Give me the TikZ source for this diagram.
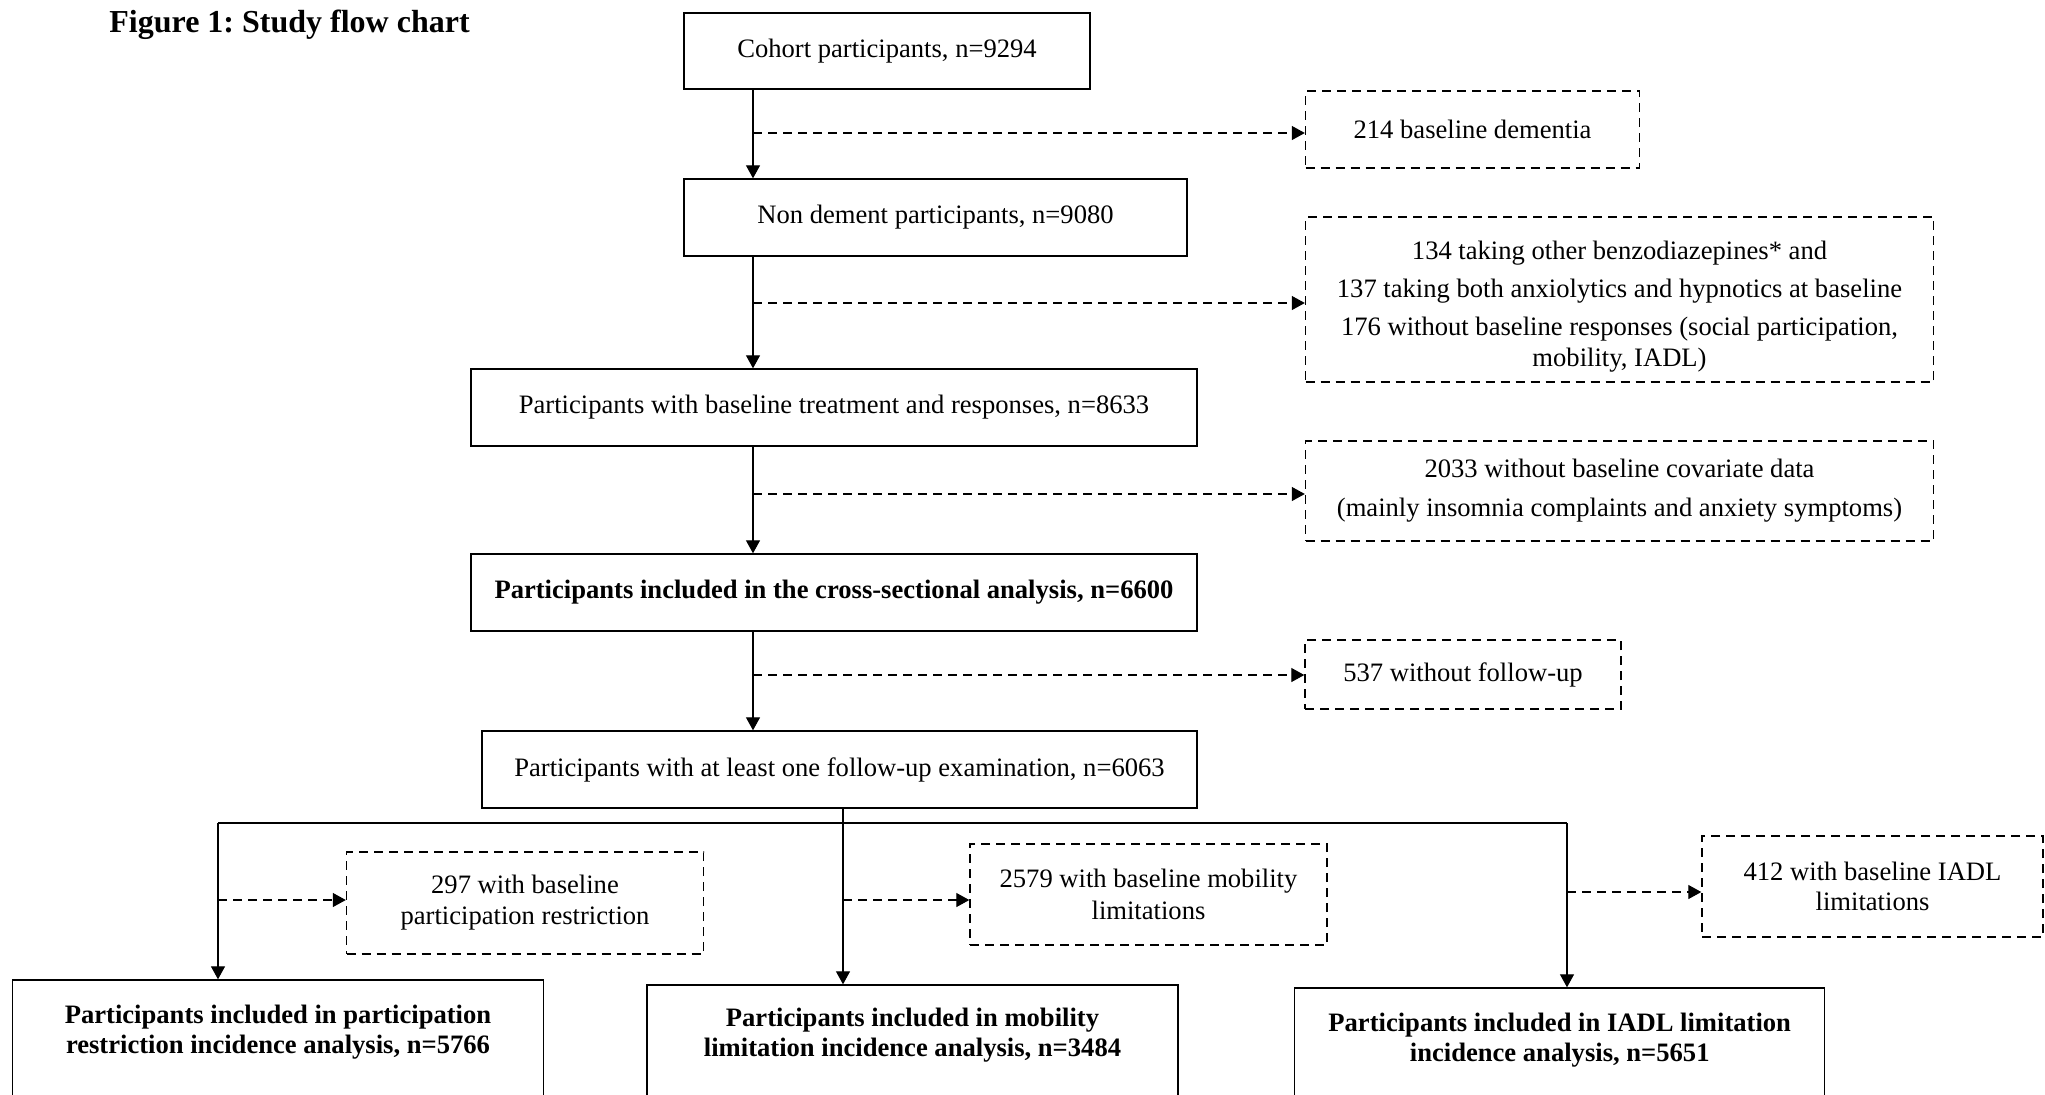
\documentclass[tikz,border=0pt]{standalone}
\usepackage{fontspec}
\setmainfont{Liberation Serif}
\usetikzlibrary{arrows.meta}
\begin{document}
\begin{tikzpicture}[x=0.5pt,y=-0.5pt,
  solidbox/.style={draw, line width=0.7pt, align=center, inner sep=0pt, font=\fontsize{13.3}{15}\selectfont},
  dashbox/.style={draw, line width=0.7pt, dash pattern=on 4.5pt off 3pt, align=center, inner sep=0pt, font=\fontsize{13.3}{15.5}\selectfont},
  plaintext/.style={align=center, inner sep=0pt, font=\fontsize{13.3}{15}\selectfont},
  arr/.style={-{Triangle[length=6.5pt,width=7pt]}, line width=0.6pt},
  dasharr/.style={arr, dash pattern=on 4.5pt off 3pt},
  link/.style={line width=0.6pt}]
\useasboundingbox (0,0) rectangle (2045,1094);
\clip (0,0) rectangle (2045,1094);
\fill[white] (0,0) rectangle (2045,1094);

% title
\node[anchor=base west, inner sep=0pt, font=\fontsize{16}{18}\selectfont\bfseries] (title) at (109,32) {Figure\ 1:\ Study flow chart};

% main column
\node[solidbox, minimum width=203pt, minimum height=38pt] (cohort) at (887,51) {Cohort participants, n=9294};
\node[solidbox, minimum width=251.5pt, minimum height=38.5pt] (nondem) at (935.5,217.5) {Non dement participants, n=9080};
\node[solidbox, minimum width=363pt, minimum height=38.5pt] (base) at (834,407.5) {Participants with baseline treatment and responses, n=8633};
\node[solidbox, minimum width=363pt, minimum height=38.5pt, font=\fontsize{13.3}{15}\selectfont\bfseries] (cross) at (834,592.5) {Participants included in the cross-sectional analysis, n=6600};
\node[solidbox, minimum width=357.5pt, minimum height=38.5pt] (fu) at (839.5,769.5) {Participants with at least one follow-up examination, n=6063};

% exclusion boxes
\node[dashbox, minimum width=167pt, minimum height=38.5pt] (d1) at (1472.5,129.5) {214 baseline dementia};
\node[dashbox, minimum width=314pt, minimum height=82.5pt] (d2) at (1619.5,299.5) {};
\node[plaintext, font=\fontsize{13.3}{15.5}\selectfont] (d2t) at (1619.5,307) {134 taking other benzodiazepines* and\\[3.5pt]137 taking both anxiolytics and hypnotics at baseline\\[3.5pt]176 without baseline responses (social participation,\\mobility, IADL)};
\node[dashbox, minimum width=314pt, minimum height=50pt, font=\fontsize{13.3}{19.5}\selectfont] (d3) at (1619.5,491) {2033 without baseline covariate data\\(mainly insomnia complaints and anxiety symptoms)};
\node[dashbox, minimum width=158pt, minimum height=34.5pt] (d4) at (1463,674.5) {537 without follow-up};
\node[dashbox, minimum width=178.5pt, minimum height=51pt] (d5) at (525,903) {297 with baseline\\participation restriction};
\node[dashbox, minimum width=178.5pt, minimum height=50.5pt, font=\fontsize{13.3}{16}\selectfont] (d6) at (1148.5,894.5) {2579 with baseline mobility\\limitations};
\node[dashbox, minimum width=170.5pt, minimum height=50.5pt, font=\fontsize{13.3}{15}\selectfont] (d7) at (1872.5,886.5) {412 with baseline IADL\\limitations};

% bottom boxes
\node[solidbox, minimum width=265.5pt, minimum height=80pt] (b1) at (278,1060) {};
\node[solidbox, minimum width=265.5pt, minimum height=80pt] (b2) at (912.5,1065) {};
\node[solidbox, minimum width=265pt, minimum height=80pt] (b3) at (1559.7,1068) {};
\node[plaintext, font=\fontsize{13.3}{15}\selectfont\bfseries] (b1t) at (278,1032) {Participants included in participation\\restriction incidence analysis, n=5766};
\node[plaintext, font=\fontsize{13.3}{15}\selectfont\bfseries] (b2t) at (912.5,1035) {Participants included in mobility\\limitation incidence analysis, n=3484};
\node[plaintext, font=\fontsize{13.3}{15}\selectfont\bfseries] (b3t) at (1559.7,1040) {Participants included in IADL limitation\\incidence analysis, n=5651};

% spine coordinates
\coordinate (sp) at (753,0);
\coordinate (a1) at (753,133);
\coordinate (a2) at (753,303);
\coordinate (a3) at (753,494);
\coordinate (a4) at (753,675);
\coordinate (fk) at (843,823);
\coordinate (fl) at (218,823);
\coordinate (fr) at (1567,823);
\coordinate (a5) at (218,900);
\coordinate (a6) at (843,900);
\coordinate (a7) at (1567,892);

% vertical arrows
\draw[arr] (sp |- cohort.south) -- (sp |- nondem.north);
\draw[arr] (sp |- nondem.south) -- (sp |- base.north);
\draw[arr] (sp |- base.south) -- (sp |- cross.north);
\draw[arr] (sp |- cross.south) -- (sp |- fu.north);

% dashed side arrows
\draw[dasharr] (a1) -- (a1 -| d1.west);
\draw[dasharr] (a2) -- (a2 -| d2.west);
\draw[dasharr] (a3) -- (a3 -| d3.west);
\draw[dasharr] (a4) -- (a4 -| d4.west);

% fork
\draw[link] (fk |- fu.south) -- (fk);
\draw[link] (fl) -- (fr);
\draw[arr] (fl) -- (fl |- b1.north);
\draw[arr] (fk) -- (fk |- b2.north);
\draw[arr] (fr) -- (fr |- b3.north);
\draw[dasharr] (a5) -- (a5 -| d5.west);
\draw[dasharr] (a6) -- (a6 -| d6.west);
\draw[dasharr] (a7) -- (a7 -| d7.west);
\end{tikzpicture}
\end{document}
